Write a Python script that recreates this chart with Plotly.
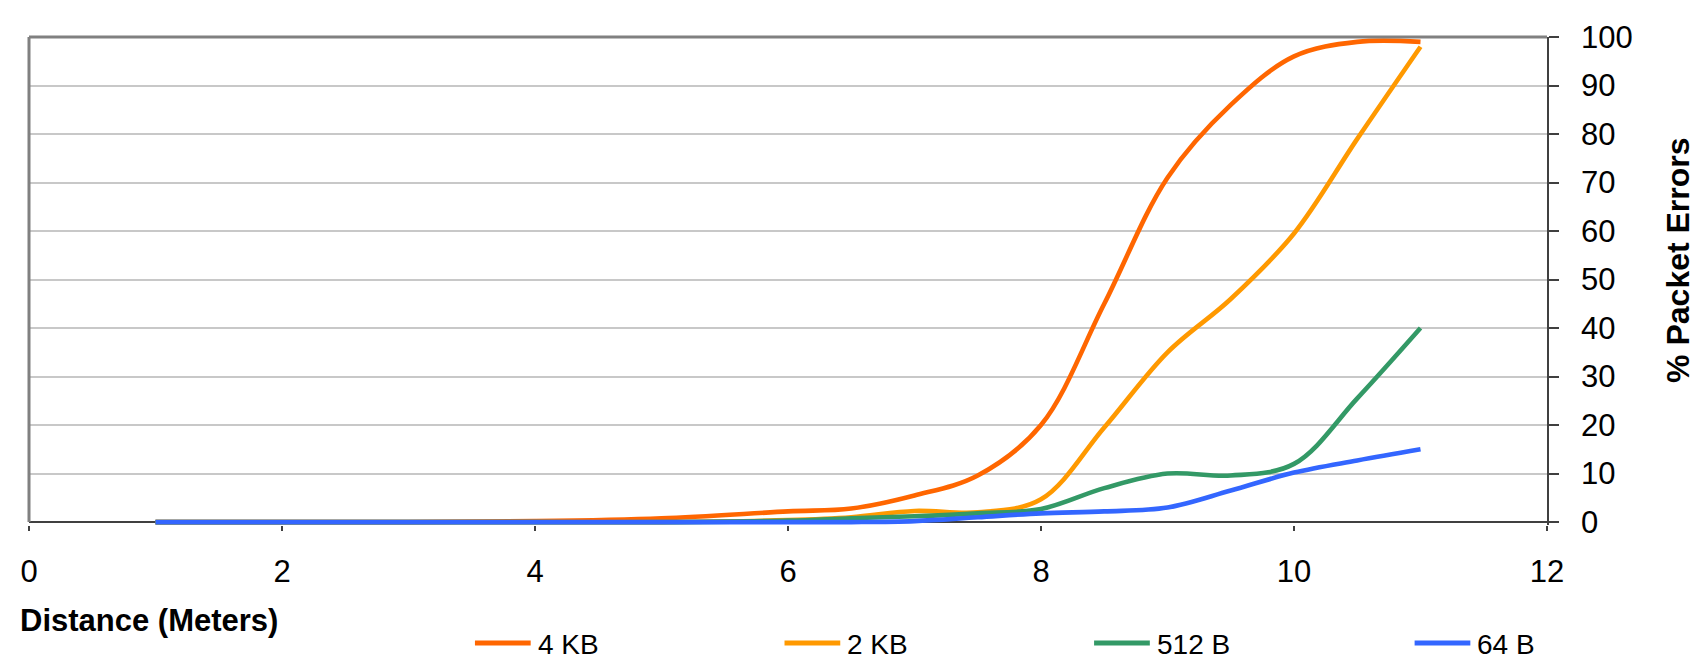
import plotly.graph_objects as go

# ---- data ----
distance_m = [1, 2, 3, 4, 5, 6, 6.5, 7, 7.5, 8, 8.5, 9, 9.5, 10, 10.5, 11]
err_4kb = [0, 0, 0, 0.2, 0.8, 2.2, 2.8, 5.5, 9.6, 20, 45, 71, 86, 96, 99, 99]
err_2kb = [0, 0, 0, 0, 0, 0.4, 1.0, 2.3, 2.0, 4.7, 19.5, 35, 46, 59.5, 79, 98]
err_512b = [0, 0, 0, 0, 0, 0.3, 0.8, 1.2, 1.8, 2.7, 7, 10, 9.6, 12, 25.5, 40]
err_64b = [0, 0, 0, 0, 0, 0, 0, 0.2, 1.0, 1.8, 2.2, 3.0, 6.5, 10.2, 12.7, 15]

series_names = ["4 KB", "2 KB", "512 B", "64 B"]
series_values = [err_4kb, err_2kb, err_512b, err_64b]
series_colors = ["#FF6600", "#FF9900", "#339966", "#3366FF"]

x_ticks = [0, 2, 4, 6, 8, 10, 12]
y_ticks = [0, 10, 20, 30, 40, 50, 60, 70, 80, 90, 100]

# ---- layout geometry (screen pixels; page body adds an 8px offset) ----
OFF = 8
W, H = 1706 - OFF, 668 - OFF
PLOT_L, PLOT_R, PLOT_T, PLOT_B = 22, 1547, 25, 525   # screen coords
ML, MT = PLOT_L - OFF, PLOT_T - OFF
MR, MB = W - (PLOT_R - OFF), H - (PLOT_B - OFF)
PW, PH = PLOT_R - PLOT_L, PLOT_B - PLOT_T
FONT = "Liberation Sans, Arial, sans-serif"


def px_x(px):
    return (px - PLOT_L) / PW


def px_y(py):
    return (PLOT_B - py) / PH


fig = go.Figure()
for name, vals, col in zip(series_names, series_values, series_colors):
    fig.add_trace(go.Scatter(
        x=distance_m, y=vals, name=name, mode="lines",
        line=dict(color=col, width=4.6, shape="spline", smoothing=1.0),
        showlegend=False, hoverinfo="x+y+name",
    ))

shapes = [
    # left and top plot border (gray)
    dict(type="line", xref="paper", yref="paper", x0=0, x1=0, y0=px_y(522), y1=1,
         line=dict(color="#808080", width=3), layer="above"),
    dict(type="line", xref="paper", yref="paper", x0=0, x1=1, y0=1, y1=1,
         line=dict(color="#808080", width=3), layer="above"),
]
annotations = [
    dict(text="<b>Distance (Meters)</b>", xref="paper", yref="paper",
         x=px_x(11), y=px_y(623), xanchor="left", yanchor="middle",
         showarrow=False, font=dict(family=FONT, size=31, color="#000000")),
    dict(text="<b>% Packet Errors</b>", xref="paper", yref="paper",
         x=px_x(1678), y=px_y(254), xanchor="center", yanchor="middle",
         textangle=-90, showarrow=False,
         font=dict(family=FONT, size=32, color="#000000")),
]

# manual legend
legend_starts = [470, 781, 1092, 1414]
for name, col, sx in zip(series_names, series_colors, legend_starts):
    shapes.append(dict(type="line", xref="paper", yref="paper",
                       x0=px_x(sx), x1=px_x(sx + 56), y0=px_y(646), y1=px_y(646),
                       line=dict(color=col, width=5)))
    annotations.append(dict(text=name, xref="paper", yref="paper",
                            x=px_x(sx + 61), y=px_y(647), xanchor="left", yanchor="middle",
                            showarrow=False,
                            font=dict(family=FONT, size=28, color="#000000")))

fig.update_layout(
    width=W, height=H,
    margin=dict(l=ML, r=MR, t=MT, b=MB),
    paper_bgcolor="white", plot_bgcolor="white",
    font=dict(family=FONT, color="#000000"),
    shapes=shapes, annotations=annotations,
    showlegend=False,
)
fig.update_xaxes(
    range=[0, 12], tickvals=x_ticks, ticktext=[str(v) for v in x_ticks],
    showgrid=False, zeroline=False, showline=False,
    ticks="outside", ticklen=5, tickwidth=1.5, tickcolor="#404040",
    tickfont=dict(family=FONT, size=31, color="#000000"),
    ticklabelstandoff=14, ticklabeloverflow="allow",
)
fig.update_yaxes(
    range=[-0.6, 100], side="right", tickvals=y_ticks,
    ticktext=[str(v) for v in y_ticks],
    showgrid=True, gridcolor="#C8C8C8", gridwidth=1.5,
    zeroline=True, zerolinecolor="#404040", zerolinewidth=2,
    showline=True, linecolor="#404040", linewidth=1.7,
    ticks="outside", ticklen=10, tickwidth=1.5, tickcolor="#404040",
    tickfont=dict(family=FONT, size=31, color="#000000"),
    ticklabelstandoff=16, ticklabeloverflow="allow",
)

fig.write_html("out.html")
